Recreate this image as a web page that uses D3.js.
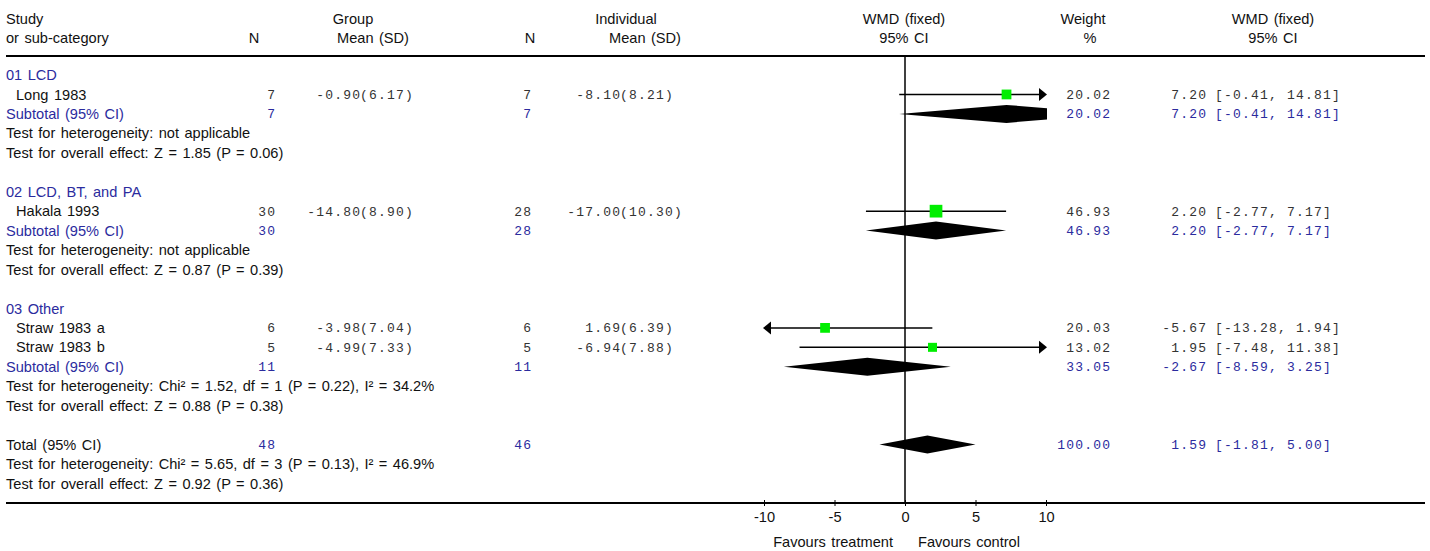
<!DOCTYPE html>
<html><head><meta charset="utf-8">
<script src="https://cdn.jsdelivr.net/npm/d3@7"></script>
<style>body{margin:0;background:#fff} svg{display:block}</style>
</head><body><svg id="chart" width="1430" height="551"></svg>
<script>
// ---------- data ----------
const subgroupNames = ["01 LCD", "02 LCD, BT, and PA", "03 Other"];
const studyNames = ["Long 1983", "Hakala 1993", "Straw 1983 a", "Straw 1983 b"];
const studyGroup = [0, 1, 2, 2];
const groupN = [7, 30, 6, 5];
const groupMean = [-0.90, -14.80, -3.98, -4.99];
const groupSD = [6.17, 8.90, 7.04, 7.33];
const indivN = [7, 28, 6, 5];
const indivMean = [-8.10, -17.00, 1.69, -6.94];
const indivSD = [8.21, 10.30, 6.39, 7.88];
const studyWeight = [20.02, 46.93, 20.03, 13.02];
const studyWMD = [7.20, 2.20, -5.67, 1.95];
const studyLower = [-0.41, -2.77, -13.28, -7.48];
const studyUpper = [14.81, 7.17, 1.94, 11.38];

const subtotalGroupN = [7, 30, 11];
const subtotalIndivN = [7, 28, 11];
const subtotalWeight = [20.02, 46.93, 33.05];
const subtotalWMD = [7.20, 2.20, -2.67];
const subtotalLower = [-0.41, -2.77, -8.59];
const subtotalUpper = [14.81, 7.17, 3.25];
const subtotalHeterogeneity = [
  "Test for heterogeneity: not applicable",
  "Test for heterogeneity: not applicable",
  "Test for heterogeneity: Chi\u00b2 = 1.52, df = 1 (P = 0.22), I\u00b2 = 34.2%"
];
const subtotalOverall = [
  "Test for overall effect: Z = 1.85 (P = 0.06)",
  "Test for overall effect: Z = 0.87 (P = 0.39)",
  "Test for overall effect: Z = 0.88 (P = 0.38)"
];

const totalLabel = "Total (95% CI)";
const totalGroupN = 48;
const totalIndivN = 46;
const totalWeight = 100.00;
const totalWMD = 1.59;
const totalLower = -1.81;
const totalUpper = 5.00;
const totalHeterogeneity = "Test for heterogeneity: Chi\u00b2 = 5.65, df = 3 (P = 0.13), I\u00b2 = 46.9%";
const totalOverall = "Test for overall effect: Z = 0.92 (P = 0.36)";

const axisTicks = [-10, -5, 0, 5, 10];
const axisDomain = [-10, 10];
const favourLabels = ["Favours treatment", "Favours control"];
const subtotalLabel = "Subtotal (95% CI)";

// ---------- styles ----------
const SANS = "'Liberation Sans', Arial, sans-serif";
const MONO = "'Liberation Mono', 'Courier New', monospace";
const SANS_SIZE = 14.6;
const BLUE = "#2b2b9e";
const DARK = "#111";
const MONO_DARK = "#333";
const GREEN = "#00ee00";

const svg = d3.select("#chart");

// build row list
const rows = [];
subgroupNames.forEach((name, g) => {
  rows.push({type: "group", g});
  studyNames.forEach((s, i) => { if (studyGroup[i] === g) rows.push({type: "study", i}); });
  rows.push({type: "subtotal", g});
  rows.push({type: "het", text: subtotalHeterogeneity[g]});
  rows.push({type: "overall", text: subtotalOverall[g]});
  rows.push({type: "blank"});
});
rows.push({type: "total"});
rows.push({type: "het", text: totalHeterogeneity});
rows.push({type: "overall", text: totalOverall});
rows.forEach((r, k) => r.k = k);

const y = d3.scaleLinear().domain([0, rows.length - 1]).range([75, 483.5]);
const x = d3.scaleLinear().domain(axisDomain).range([764, 1046]);
const sq = d3.scaleLinear().domain([13.02, 46.93]).range([9, 12.7]);

// ---------- header ----------
function sans(g, tx, ty, txt, anchor, fill) {
  return g.append("text").attr("x", tx).attr("y", ty).attr("dy", "0.35em")
    .attr("font-family", SANS).attr("font-size", SANS_SIZE).attr("fill", fill || DARK)
    .attr("word-spacing", "1.4px")
    .attr("text-anchor", anchor || "start").text(txt);
}
function mono(g, tx, ty, txt, anchor, fill) {
  return g.append("text").attr("x", tx).attr("y", ty).attr("dy", "0.35em")
    .attr("font-family", MONO).attr("font-size", 13).attr("letter-spacing", "1.2px")
    .attr("fill", fill || MONO_DARK).attr("text-anchor", anchor || "start").text(txt);
}

const head = svg.append("g");
sans(head, 6, 19, "Study");
sans(head, 6, 38, "or sub-category");
sans(head, 254, 38, "N", "middle");
sans(head, 353, 19, "Group", "middle");
sans(head, 373, 38, "Mean (SD)", "middle");
sans(head, 530, 38, "N", "middle");
sans(head, 626, 19, "Individual", "middle");
sans(head, 645, 38, "Mean (SD)", "middle");
sans(head, 904, 19, "WMD (fixed)", "middle");
sans(head, 904, 38, "95% CI", "middle");
sans(head, 1083, 19, "Weight", "middle");
sans(head, 1090, 38, "%", "middle");
sans(head, 1273, 19, "WMD (fixed)", "middle");
sans(head, 1273, 38, "95% CI", "middle");

// rules
svg.append("line").attr("x1", 6).attr("x2", 1425).attr("y1", 56).attr("y2", 56)
  .attr("stroke", "#000").attr("stroke-width", 2);
svg.append("line").attr("x1", 6).attr("x2", 1425).attr("y1", 503).attr("y2", 503)
  .attr("stroke", "#000").attr("stroke-width", 2);
// zero line
svg.append("line").attr("x1", x(0)).attr("x2", x(0)).attr("y1", 56).attr("y2", 503)
  .attr("stroke", "#000").attr("stroke-width", 1.5);

// clip for diamonds
svg.append("clipPath").attr("id", "plotclip").append("rect")
  .attr("x", x(axisDomain[0])).attr("y", 56).attr("width", x(axisDomain[1]) - x(axisDomain[0]) + 1).attr("height", 447);

const body = svg.append("g");
const plot = svg.append("g");

function cols(yy, gN, iN, w, est, lo, hi, fill) {
  mono(body, 275 + 1.2, yy, String(gN), "end", fill);
  mono(body, 531 + 1.2, yy, String(iN), "end", fill);
  mono(body, 1110 + 1.2, yy, w.toFixed(2), "end", fill);
  mono(body, 1206 + 1.2, yy, est.toFixed(2), "end", fill);
  mono(body, 1215, yy, "[" + lo.toFixed(2) + ", " + hi.toFixed(2) + "]", "start", fill);
}

function ciLine(yy, lo, hi) {
  const [d0, d1] = axisDomain;
  let x0 = x(Math.max(lo, d0)), x1 = x(Math.min(hi, d1));
  if (hi > d1) {
    const t = x(d1) + 1;
    plot.append("path").attr("d", `M${t},${yy} L${t - 8},${yy - 6.5} L${t - 8},${yy + 6.5} Z`).attr("fill", "#000");
    x1 = t - 7;
  }
  if (lo < d0) {
    const t = x(d0) - 1;
    plot.append("path").attr("d", `M${t},${yy} L${t + 8},${yy - 6.5} L${t + 8},${yy + 6.5} Z`).attr("fill", "#000");
    x0 = t + 7;
  }
  plot.append("line").attr("x1", x0).attr("x2", x1).attr("y1", yy).attr("y2", yy)
    .attr("stroke", "#000").attr("stroke-width", 1.5);
}

function diamond(yy, est, lo, hi) {
  const h = 9;
  plot.append("path").attr("clip-path", "url(#plotclip)")
    .attr("d", `M${x(lo)},${yy} L${x(est)},${yy - h} L${x(hi)},${yy} L${x(est)},${yy + h} Z`)
    .attr("fill", "#000");
}

rows.forEach(r => {
  const yy = y(r.k);
  if (r.type === "group") {
    sans(body, 6, yy, subgroupNames[r.g], "start", BLUE);
  } else if (r.type === "study") {
    const i = r.i;
    sans(body, 16, yy, studyNames[i]);
    mono(body, 360 + 1.2, yy, groupMean[i].toFixed(2), "end");
    mono(body, 360, yy, "(" + groupSD[i].toFixed(2) + ")", "start");
    mono(body, 620 + 1.2, yy, indivMean[i].toFixed(2), "end");
    mono(body, 620, yy, "(" + indivSD[i].toFixed(2) + ")", "start");
    cols(yy, groupN[i], indivN[i], studyWeight[i], studyWMD[i], studyLower[i], studyUpper[i], MONO_DARK);
    ciLine(yy, studyLower[i], studyUpper[i]);
    const s = sq(studyWeight[i]);
    plot.append("rect").attr("x", x(studyWMD[i]) - s / 2).attr("y", yy - s / 2)
      .attr("width", s).attr("height", s).attr("fill", GREEN);
  } else if (r.type === "subtotal") {
    const g = r.g;
    sans(body, 6, yy, subtotalLabel, "start", BLUE);
    cols(yy, subtotalGroupN[g], subtotalIndivN[g], subtotalWeight[g], subtotalWMD[g], subtotalLower[g], subtotalUpper[g], BLUE);
    diamond(yy, subtotalWMD[g], subtotalLower[g], subtotalUpper[g]);
  } else if (r.type === "het" || r.type === "overall") {
    sans(body, 6, yy, r.text);
  } else if (r.type === "total") {
    sans(body, 6, yy, totalLabel);
    cols(yy, totalGroupN, totalIndivN, totalWeight, totalWMD, totalLower, totalUpper, BLUE);
    diamond(yy, totalWMD, totalLower, totalUpper);
  }
});

// ---------- axis ----------
const axis = d3.axisBottom(x).tickValues(axisTicks).tickSize(3).tickPadding(6)
  .tickFormat(d => String(d));
const ag = svg.append("g").attr("transform", "translate(0,503)").call(axis);
ag.select(".domain").remove();
ag.selectAll(".tick line").attr("y1", -3).attr("y2", 3).attr("stroke", "#000").attr("stroke-width", 1);
ag.selectAll(".tick text").attr("font-family", SANS).attr("font-size", SANS_SIZE).attr("fill", DARK);

sans(svg, 893, 542, favourLabels[0], "end");
sans(svg, 918, 542, favourLabels[1], "start");
</script></body></html>
